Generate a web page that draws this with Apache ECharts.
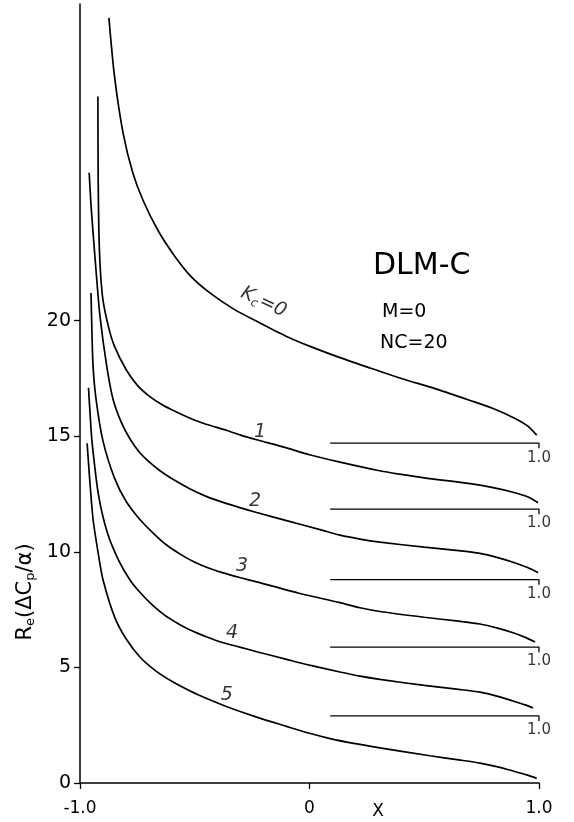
<!DOCTYPE html>
<html>
<head>
<meta charset="utf-8">
<script src="https://cdn.jsdelivr.net/npm/echarts@6/dist/echarts.min.js"></script>
<style>
html,body{margin:0;padding:0;background:#fff;}
#chart{width:574px;height:822px;}
</style>
</head>
<body>
<div id="chart"></div>
<script>
// ---- data ----
const xTickValues = [-1, 0, 1];
const xTickLabels = ['-1.0', '0', '1.0'];
const yTickValues = [0, 5, 10, 15, 20];

const curveKc0 = [[-0.874,33.1],[-0.85,30.6],[-0.812,28.1],[-0.77,26.4],[-0.725,25.2],[-0.66,23.9],[-0.595,22.9],[-0.52,21.95],[-0.434,21.2],[-0.33,20.5],[-0.216,19.9],[-0.1,19.32],[0,18.9],[0.133,18.4],[0.25,18.0],[0.4,17.5],[0.55,17.05],[0.7,16.55],[0.8,16.2],[0.9,15.75],[0.95,15.45],[0.99,15.05]];
const curveKc1 = [[-0.922,29.7],[-0.921,26.4],[-0.918,24.0],[-0.912,22.3],[-0.9,20.9],[-0.875,19.7],[-0.85,18.9],[-0.8,17.9],[-0.75,17.2],[-0.7,16.75],[-0.64,16.35],[-0.58,16.05],[-0.52,15.78],[-0.46,15.55],[-0.36,15.25],[-0.3,15.05],[-0.23,14.85],[-0.1,14.5],[0,14.2],[0.133,13.88],[0.3,13.52],[0.4,13.35],[0.5,13.2],[0.7,12.95],[0.8,12.78],[0.887,12.58],[0.95,12.38],[0.996,12.12]];
const curveKc2 = [[-0.96,26.4],[-0.952,25.0],[-0.943,23.8],[-0.928,21.9],[-0.913,20.2],[-0.883,18.0],[-0.856,16.6],[-0.82,15.6],[-0.78,14.85],[-0.74,14.3],[-0.7,13.9],[-0.65,13.5],[-0.58,13.05],[-0.52,12.72],[-0.45,12.4],[-0.38,12.15],[-0.3,11.9],[-0.23,11.7],[-0.1,11.35],[0.05,10.95],[0.133,10.72],[0.22,10.55],[0.307,10.42],[0.5,10.2],[0.65,10.05],[0.743,9.93],[0.82,9.75],[0.887,9.55],[0.95,9.32],[0.996,9.1]];
const curveKc3 = [[-0.952,21.2],[-0.948,19.5],[-0.943,18.0],[-0.93,16.6],[-0.9,14.8],[-0.85,13.2],[-0.8,12.2],[-0.739,11.4],[-0.68,10.8],[-0.63,10.35],[-0.56,9.88],[-0.5,9.55],[-0.44,9.3],[-0.38,9.1],[-0.3,8.88],[-0.23,8.7],[-0.05,8.22],[0.133,7.8],[0.22,7.58],[0.307,7.42],[0.5,7.17],[0.65,7.0],[0.743,6.88],[0.82,6.7],[0.887,6.5],[0.94,6.3],[0.983,6.1]];
const curveKc4 = [[-0.963,17.1],[-0.955,15.8],[-0.948,14.8],[-0.92,12.5],[-0.88,10.8],[-0.83,9.6],[-0.78,8.75],[-0.739,8.25],[-0.69,7.75],[-0.63,7.25],[-0.57,6.88],[-0.52,6.62],[-0.45,6.33],[-0.38,6.08],[-0.3,5.87],[-0.23,5.68],[-0.1,5.35],[0,5.1],[0.133,4.8],[0.22,4.62],[0.307,4.48],[0.5,4.22],[0.65,4.05],[0.743,3.93],[0.82,3.75],[0.887,3.55],[0.94,3.38],[0.974,3.25]];
const curveKc5 = [[-0.969,14.7],[-0.956,12.9],[-0.943,11.4],[-0.92,9.9],[-0.9,8.8],[-0.85,7.2],[-0.8,6.25],[-0.739,5.45],[-0.67,4.85],[-0.6,4.4],[-0.52,3.98],[-0.44,3.62],[-0.36,3.3],[-0.23,2.85],[-0.1,2.45],[0,2.15],[0.09,1.92],[0.2,1.7],[0.307,1.52],[0.525,1.18],[0.65,1.0],[0.743,0.86],[0.82,0.7],[0.887,0.52],[0.95,0.34],[0.99,0.2]];

const baselineLevels = [14.7, 11.85, 8.8, 5.88, 2.9];
const baselineStartX = 0.09;
const baselineEndX = 1;

const curveLabels = ['1', '2', '3', '4', '5'];
const curveLabelPos = [[-0.216,15.2],[-0.237,12.2],[-0.294,9.4],[-0.338,6.5],[-0.36,3.8]];
const kc0LabelPos = [-0.2, 20.8];

// ---- chart ----
const FONT = 'DejaVu Sans';
const chart = echarts.init(document.getElementById('chart'), null, {renderer: 'canvas'});

const lineStyle = {color: '#000', width: 1.7};
const curves = [curveKc0, curveKc1, curveKc2, curveKc3, curveKc4, curveKc5];

const series = [];
curves.forEach((c, i) => {
  series.push({
    type: 'line', name: 'Kc' + i, data: c, showSymbol: false, symbol: 'none',
    smooth: 0.25, lineStyle: lineStyle, silent: true, z: 3
  });
});
baselineLevels.forEach((b, i) => {
  series.push({
    type: 'line', name: 'base' + i,
    data: [[baselineStartX, b], [baselineEndX, b], [baselineEndX, b - 0.22]],
    showSymbol: false, symbol: 'none', lineStyle: {color: '#000', width: 1.3}, silent: true
  });
});
series.push({
  type: 'scatter', name: 'baseLabels', symbolSize: 0, silent: true,
  data: baselineLevels.map(b => [baselineEndX, b]),
  label: {show: true, position: 'bottom', distance: 7, formatter: '1.0',
          color: '#000', fontFamily: FONT, fontSize: 15}
});
series.push({
  type: 'scatter', name: 'curveLabels', symbolSize: 0, silent: true,
  data: curveLabelPos.map((p, i) => ({value: p, name: curveLabels[i]})),
  label: {show: true, position: 'inside', formatter: '{b}', color: '#000',
          fontFamily: FONT, fontSize: 19, fontStyle: 'italic'}
});
series.push({
  type: 'scatter', name: 'kc0Label', symbolSize: 0, silent: true,
  data: [{value: kc0LabelPos, name: 'Kc=0'}],
  label: {show: true, position: 'inside', rotate: -25, color: '#000',
          formatter: '{k|K}{c|c}{k|=0}',
          rich: {
            k: {fontFamily: FONT, fontSize: 19, fontStyle: 'italic', color: '#000'},
            c: {fontFamily: FONT, fontSize: 12, fontStyle: 'italic', color: '#000', padding: [10, 1, 0, 0]}
          }}
});

const option = {
  backgroundColor: '#fff',
  animation: false,
  grid: {left: 80, right: 35, top: 4, bottom: 39, containLabel: false},
  xAxis: {
    type: 'value', min: -1, max: 1,
    axisLine: {show: true, onZero: false, lineStyle: {color: '#000', width: 1.5}},
    axisTick: {show: true, customValues: xTickValues, length: 6, inside: false, lineStyle: {color: '#000', width: 1.3}},
    axisLabel: {show: true, customValues: xTickValues, margin: 17,
      formatter: v => xTickLabels[xTickValues.indexOf(v)] ?? '',
      color: '#000', fontFamily: FONT, fontSize: 17},
    splitLine: {show: false}
  },
  yAxis: {
    type: 'value', min: 0, max: 33.7,
    axisLine: {show: true, onZero: false, lineStyle: {color: '#000', width: 1.5}},
    axisTick: {show: true, customValues: yTickValues, length: 6, lineStyle: {color: '#000', width: 1.3}},
    axisLabel: {show: true, customValues: yTickValues, margin: 9,
      color: '#000', fontFamily: FONT, fontSize: 19},
    splitLine: {show: false}
  },
  graphic: [
    {type: 'text', x: 26, y: 592, rotation: Math.PI / 2,
     style: {text: '{n|R}{s|e}{n|(ΔC}{s|p}{n|/α)}', align: 'center', verticalAlign: 'middle',
       rich: {n: {fontFamily: FONT, fontSize: 21, fill: '#000', color: '#000'},
              s: {fontFamily: FONT, fontSize: 13, fill: '#000', color: '#000', padding: [10, 0, 0, 0]}}}},
    {type: 'text', x: 378, y: 812, style: {text: 'X', fontFamily: FONT, fontSize: 17, fill: '#000', align: 'center', verticalAlign: 'middle'}},
    {type: 'text', x: 373, y: 266, style: {text: 'DLM-C', fontFamily: FONT, fontSize: 30, fill: '#000', align: 'left', verticalAlign: 'middle'}},
    {type: 'text', x: 382, y: 312, style: {text: 'M=0', fontFamily: FONT, fontSize: 19, fill: '#000', align: 'left', verticalAlign: 'middle'}},
    {type: 'text', x: 380, y: 343, style: {text: 'NC=20', fontFamily: FONT, fontSize: 19, fill: '#000', align: 'left', verticalAlign: 'middle'}}
  ],
  series: series
};
chart.setOption(option);
</script>
</body>
</html>
